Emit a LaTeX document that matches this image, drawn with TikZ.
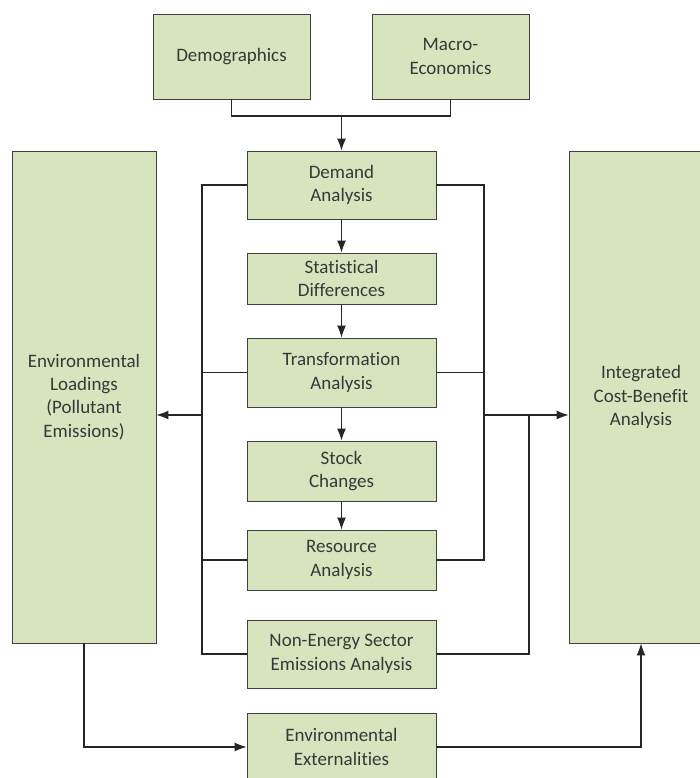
\documentclass[tikz,border=0pt]{standalone}
\usepackage{fontspec}
\setmainfont{Carlito}[Ligatures=NoCommon]
\usepackage{xcolor}
\usetikzlibrary{arrows.meta}
\definecolor{boxgreen}{RGB}{215,228,189}
\definecolor{boxline}{RGB}{64,64,64}

\begin{document}
\begin{tikzpicture}[x=1pt, y=-1pt,
	box/.style={draw=boxline, line width=0.9pt, fill=boxgreen, align=center, inner sep=0pt, text=black!78, font=\fontsize{19}{23.3}\selectfont},
	wire/.style={line width=1.1pt, black!85},
	arr/.style={wire, -{Latex[length=12pt, width=9pt]}}]
	\useasboundingbox (0,0) rectangle (699,778);
	\node[box, minimum width=157, minimum height=85] (demo) at (231.5,56.5) {Demographics};
	\node[box, minimum width=157, minimum height=85] (macro) at (450.5,56.5) {Macro-\\Economics};
	\node[box, minimum width=189, minimum height=68] (demand) at (341.5,185) {Demand\\Analysis};
	\node[box, minimum width=189, minimum height=51] (stat) at (341.5,278.5) {Statistical\\Differences};
	\node[box, minimum width=189, minimum height=69] (trans) at (341.5,372.5) {Transformation\\Analysis};
	\node[box, minimum width=189, minimum height=60] (stock) at (341.5,471) {Stock\\Changes};
	\node[box, minimum width=189, minimum height=60] (res) at (341.5,560) {Resource\\Analysis};
	\node[box, minimum width=189, minimum height=68] (nonen) at (341.5,654) {Non-Energy Sector\\Emissions Analysis};
	\node[box, minimum width=189, minimum height=68] (extern) at (341.5,747) {Environmental\\Externalities};
	\node[box, minimum width=144, minimum height=492] (loads) at (84,397) {Environmental\\Loadings\\(Pollutant\\Emissions)};
	\node[box, minimum width=144, minimum height=492] (cba) at (641,397) {Integrated\\Cost-Benefit\\Analysis};
	\coordinate (top) at (341.5,116);
	\coordinate (lt) at (202,185);
	\coordinate (ll) at (202,415);
	\coordinate (rt) at (484,185);
	\coordinate (rr) at (484,415);
	\coordinate (rn) at (529,415);
	\draw[wire] (demo.south) |- (top) -| (macro.south);
	\draw[arr] (top) -- (demand.north);
	\draw[arr] (demand) -- (stat);
	\draw[arr] (stat) -- (trans);
	\draw[arr] (trans) -- (stock);
	\draw[arr] (stock) -- (res);
	\draw[wire] (demand.west) -- (lt) -- (lt |- nonen.west) -- (nonen.west);
	\draw[wire] (trans.west) -- (trans.west -| lt);
	\draw[wire] (res.west) -- (res.west -| lt);
	\draw[arr] (ll) -- (ll -| loads.east);
	\draw[wire] (demand.east) -- (rt) -- (rt |- res.east) -- (res.east);
	\draw[wire] (trans.east) -- (trans.east -| rt);
	\draw[wire] (nonen.east) -| (rn) -- (rr);
	\draw[arr] (rn) -- (rn -| cba.west);
	\draw[arr] (loads.south) |- (extern.west);
	\draw[arr] (extern.east) -| (cba.south);
\end{tikzpicture}
\end{document}
